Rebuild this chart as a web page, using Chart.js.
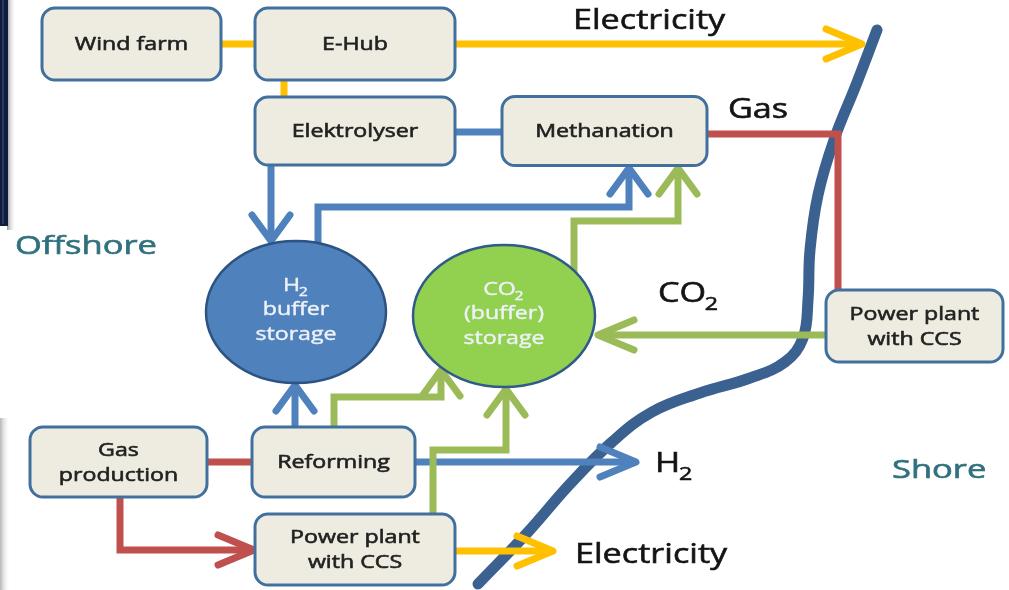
<!DOCTYPE html>
<html>
<head>
<meta charset="utf-8">
<script src="https://cdn.jsdelivr.net/npm/chart.js@4.4.1/dist/chart.umd.min.js"></script>
<style>
  html, body { margin: 0; padding: 0; background: #fff; }
  #wrap { width: 1009px; height: 590px; position: relative; }
</style>
</head>
<body>
<div id="wrap"><canvas id="c"></canvas></div>
<script>
// 洋上エネルギー連携の概念図：ノード・流れ・海岸線をすべて散布図の座標系で描く

// ---- ノード（角丸の箱）：中心座標と半幅・半高さ（図の座標単位）
const boxNames = [['Wind farm'], ['E-Hub'], ['Elektrolyser'], ['Methanation'],
  ['Gas', 'production'], ['Reforming'], ['Power plant', 'with CCS'], ['Power plant', 'with CCS']];
const boxX = [131.5, 355, 355, 604.5, 118.5, 333.5, 355, 914.5];
const boxY = [44, 44, 131, 131, 462, 462, 549.5, 326];
const boxHalfW = [89.5, 100, 100, 102.5, 88.5, 81.5, 100, 88.5];
const boxHalfH = [36, 36, 34, 34.5, 35, 35, 35.5, 36];

// ---- 貯蔵（楕円）
const tankNames = [['H₂', 'buffer', 'storage'], ['CO₂', '(buffer)', 'storage']];
const tankKind = ['h2', 'co2'];
const tankX = [296, 504];
const tankY = [312, 316];
const tankRX = [90, 91];
const tankRY = [71, 71];

// ---- 流れ：種類・経路・矢印の有無
const flowKind = ['power', 'power', 'power', 'h2', 'h2', 'h2', 'co2', 'gas',
  'co2', 'h2', 'co2', 'co2', 'h2', 'gas', 'gas', 'power'];
const flowPath = [
  [[221, 44], [255, 44]],
  [[284, 80], [284, 97]],
  [[455, 44], [862, 44]],
  [[455, 132], [502, 132]],
  [[271, 165], [271, 241]],
  [[318, 243], [318, 207], [629, 207], [629, 168]],
  [[574, 273], [574, 221], [678, 221], [678, 168]],
  [[707, 134], [838, 134], [838, 290]],
  [[826, 335], [598, 335]],
  [[295, 427], [295, 385]],
  [[334, 427], [334, 397], [441, 397], [441, 370]],
  [[433, 514], [433, 450], [506, 450], [506, 389]],
  [[415, 462], [636, 462]],
  [[207, 462], [252, 462]],
  [[120, 497], [120, 550], [254, 550]],
  [[455, 551], [553, 551]],
];
const flowArrow = [0, 0, 1, 0, 1, 1, 1, 0, 1, 1, 1, 1, 1, 0, 1, 1];

// ---- 海岸線
const shoreX = [877, 856, 834, 818, 810, 808, 803, 785, 750, 700, 652, 612, 570, 528, 478];
const shoreY = [30, 85, 140, 195, 250, 300, 338, 362, 378, 393, 412, 442, 484, 532, 584];

// ---- 文字ラベル（左端・ベースライン）
const labelText = ['Electricity', 'Gas', 'CO₂', 'H₂', 'Electricity', 'Offshore', 'Shore'];
const labelX = [573, 728, 658, 655, 575, 15, 892];
const labelY = [29, 118, 302, 472, 563, 254, 478];
const labelKind = ['flow', 'flow', 'flow', 'flow', 'flow', 'area', 'area'];

const COL = { power: '#ffc000', h2: '#4f81bd', co2: '#9bbb59', gas: '#c0504d' };
const FONT = '"Open Sans", "DejaVu Sans", sans-serif';

// 元画像は横に引き伸ばされているので、文字も横倍率 sx で描く
function richWidth(ctx, str, size, sx) {
  const parts = str.split('₂');
  ctx.font = `${size}px ${FONT}`;
  let w = ctx.measureText(parts[0]).width;
  if (parts.length > 1) { ctx.font = `${Math.round(size * 0.68)}px ${FONT}`; w += ctx.measureText('2').width; }
  return w * sx;
}
function richText(ctx, str, x, y, size, color, sx, bold) {
  const parts = str.split('₂');
  ctx.save(); ctx.translate(x, y); ctx.scale(sx, 1);
  ctx.fillStyle = color; ctx.strokeStyle = color; ctx.lineWidth = bold;
  ctx.textBaseline = 'alphabetic'; ctx.textAlign = 'left';
  ctx.font = `${size}px ${FONT}`;
  ctx.fillText(parts[0], 0, 0);
  if (bold) ctx.strokeText(parts[0], 0, 0);
  if (parts.length > 1) {
    const w = ctx.measureText(parts[0]).width;
    ctx.font = `${Math.round(size * 0.68)}px ${FONT}`;
    ctx.fillText('2', w - 1, size * 0.28);
    if (bold) ctx.strokeText('2', w - 1, size * 0.28);
  }
  ctx.restore();
}

const datasets = flowPath.map((p, i) => ({
  data: p.map(q => ({ x: q[0], y: q[1] })),
  showLine: true, pointRadius: 0, borderColor: COL[flowKind[i]], borderWidth: 7,
  borderCapStyle: 'butt', borderJoinStyle: 'miter', tension: 0, order: 1,
}));
datasets.push({
  data: shoreX.map((x, i) => ({ x, y: shoreY[i] })),
  showLine: true, pointRadius: 0, borderColor: '#3a6190', borderWidth: 11,
  borderCapStyle: 'round', tension: 0.4, order: 5,
});

const diagram = {
  id: 'diagram',
  beforeDatasetsDraw(chart) {
    const ctx = chart.ctx;
    // 左端の切れた枠
    ctx.save();
    let g = ctx.createLinearGradient(7, 0, 16, 0);
    g.addColorStop(0, 'rgba(90,90,90,0.6)'); g.addColorStop(1, 'rgba(255,255,255,0)');
    ctx.fillStyle = g; ctx.fillRect(7, 0, 9, 230);
    ctx.fillStyle = '#101c3c'; ctx.fillRect(0, 0, 8, 226);
    ctx.fillStyle = '#2a3a66'; ctx.fillRect(2, 0, 2, 224);
    g = ctx.createLinearGradient(0, 0, 10, 0);
    g.addColorStop(0, 'rgba(150,150,150,0.7)'); g.addColorStop(1, 'rgba(255,255,255,0)');
    ctx.fillStyle = g; ctx.fillRect(0, 418, 10, 172);
    ctx.restore();
  },
  afterDatasetsDraw(chart) {
    const ctx = chart.ctx, xs = chart.scales.x, ys = chart.scales.y;
    const px = v => xs.getPixelForValue(v), py = v => ys.getPixelForValue(v);

    // 矢印（開いたシェブロン）
    flowPath.forEach((p, i) => {
      if (!flowArrow[i]) return;
      const a = p[p.length - 2], b = p[p.length - 1];
      const tx = px(b[0]), ty = py(b[1]);
      let dx = tx - px(a[0]), dy = ty - py(a[1]);
      const len = Math.hypot(dx, dy); dx /= len; dy /= len;
      const horiz = Math.abs(dx) > Math.abs(dy);
      const L = horiz ? 36 : 26, S = horiz ? 15 : 19;
      ctx.save();
      ctx.strokeStyle = COL[flowKind[i]]; ctx.lineWidth = 7;
      ctx.lineJoin = 'round'; ctx.lineCap = 'round';
      ctx.beginPath();
      ctx.moveTo(tx - dx * L - dy * S, ty - dy * L + dx * S);
      ctx.lineTo(tx, ty);
      ctx.lineTo(tx - dx * L + dy * S, ty - dy * L - dx * S);
      ctx.stroke();
      ctx.restore();
    });

    // 箱
    boxNames.forEach((lines, i) => {
      const x0 = px(boxX[i] - boxHalfW[i]), x1 = px(boxX[i] + boxHalfW[i]);
      const y0 = py(boxY[i] - boxHalfH[i]), y1 = py(boxY[i] + boxHalfH[i]);
      ctx.save();
      ctx.beginPath(); ctx.roundRect(x0, y0, x1 - x0, y1 - y0, 13);
      ctx.fillStyle = '#eeece1'; ctx.fill();
      ctx.lineWidth = 3; ctx.strokeStyle = '#41709f'; ctx.stroke();
      ctx.restore();
      const cx = px(boxX[i]), cy = py(boxY[i]);
      lines.forEach((t, k) => {
        const yy = cy + (k - (lines.length - 1) / 2) * 25 + 6;
        const w = richWidth(ctx, t, 19, 1.22);
        richText(ctx, t, cx - w / 2, yy, 19, '#222', 1.22, 0.6);
      });
    });

    // 楕円
    tankNames.forEach((lines, i) => {
      const cx = px(tankX[i]), cy = py(tankY[i]);
      ctx.save();
      ctx.beginPath();
      ctx.ellipse(cx, cy, Math.abs(px(tankX[i] + tankRX[i]) - cx), Math.abs(py(tankY[i] + tankRY[i]) - cy), 0, 0, Math.PI * 2);
      ctx.fillStyle = tankKind[i] === 'h2' ? '#4f81bd' : '#92d050'; ctx.fill();
      ctx.lineWidth = 2.5; ctx.strokeStyle = tankKind[i] === 'h2' ? '#2d5383' : '#2f5a8a'; ctx.stroke();
      ctx.restore();
      lines.forEach((t, k) => {
        const yy = cy + (k - 1) * 24.5 + 3;
        const w = richWidth(ctx, t, 19, 1.22);
        richText(ctx, t, cx - w / 2, yy, 19, '#eef2f8', 1.22, 0.4);
      });
    });

    // 文字
    labelText.forEach((t, i) => {
      const area = labelKind[i] === 'area';
      richText(ctx, t, px(labelX[i]), py(labelY[i]), area ? 25 : 28,
        area ? '#31717f' : '#141414', area ? 1.38 : 1.22, 0.6);
    });
  },
};

new Chart(document.getElementById('c'), {
  type: 'scatter',
  data: { datasets },
  options: {
    responsive: true, maintainAspectRatio: false, animation: false,
    layout: { padding: 0 },
    plugins: { legend: { display: false }, tooltip: { enabled: false } },
    events: [],
    scales: {
      x: { type: 'linear', min: 0, max: 1009, display: false },
      y: { type: 'linear', min: 0, max: 590, reverse: true, display: false },
    },
  },
  plugins: [diagram],
});
</script>
</body>
</html>
